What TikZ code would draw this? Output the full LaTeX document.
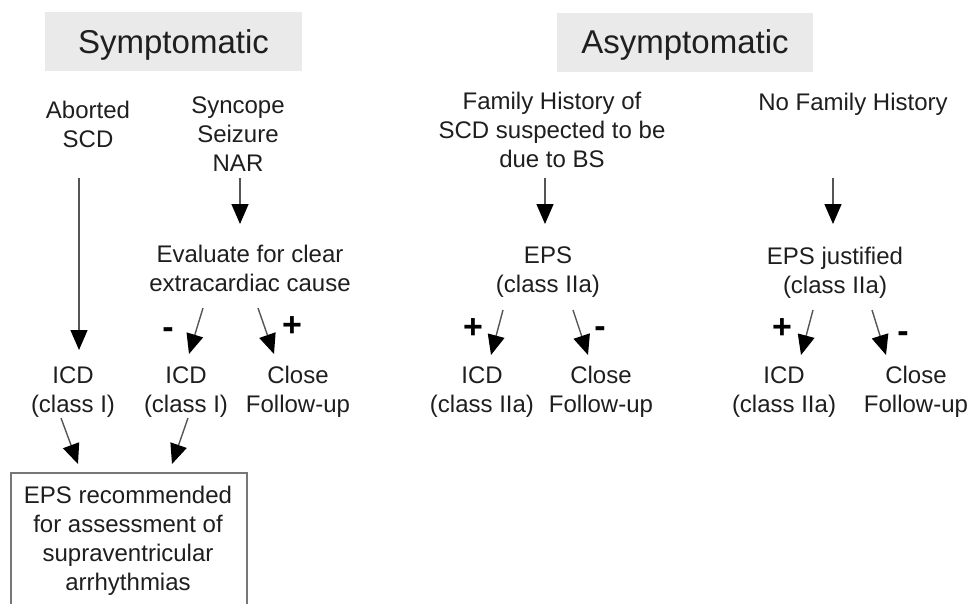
\documentclass[tikz,border=0pt]{standalone}
\usepackage{fontspec}
\setmainfont{Liberation Sans}
\usetikzlibrary{arrows.meta}
\definecolor{hdr}{HTML}{EAEAEA}
\definecolor{txt}{HTML}{1E1E1E}
\definecolor{ln}{HTML}{555555}
\definecolor{boxln}{HTML}{777777}
\begin{document}
\begin{tikzpicture}[x=1pt,y=-1pt,
  lbl/.style={font=\fontsize{24}{29}\selectfont, text=txt, align=center, anchor=base, inner sep=0pt},
  hdrbox/.style={fill=hdr, font=\fontsize{33}{40}\selectfont, text=black!88, inner sep=0pt,
                 text height=23.6pt, text depth=0pt, minimum height=59pt},
  sign/.style={font=\fontsize{34}{36}\selectfont\bfseries, text=black, inner sep=0pt, anchor=base},
  arr/.style={draw=ln, line width=1.4pt, -{Triangle[length=20pt,width=17pt,color=black]}},
  epsbox/.style={draw=boxln, line width=2pt},
]
\useasboundingbox (0,0) rectangle (972,603);
\clip (0,0) rectangle (972,603);

% headers
\node[hdrbox, minimum width=257pt] (sym) at (173.5,41.5) {Symptomatic};
\node[hdrbox, minimum width=256pt] (asym) at (685,42) {Asymptomatic};

% row A (anchor base = last line baseline)
\node[lbl] (abort) at (88,147) {Aborted\\SCD};
\node[lbl] (sync) at (238,171) {Syncope\\Seizure\\NAR};
\node[lbl] (famh) at (552,167) {Family History of\\SCD suspected to be\\due to BS};
\node[lbl] (nofam) at (853,110) {No Family History};

% row B
\node[lbl] (eval) at (250,291) {Evaluate for clear\\extracardiac cause};
\node[lbl] (eps) at (548,292) {EPS\\(class IIa)};
\node[lbl] (epsj) at (835,293) {EPS justified\\(class IIa)};

% row C
\node[lbl] (icd1) at (73,412) {ICD\\(class I)};
\node[lbl] (icd2) at (186,412) {ICD\\(class I)};
\node[lbl] (close1) at (298,412) {Close\\Follow-up};
\node[lbl] (icd3) at (482,412) {ICD\\(class IIa)};
\node[lbl] (close2) at (601,412) {Close\\Follow-up};
\node[lbl] (icd4) at (784,412) {ICD\\(class IIa)};
\node[lbl] (close3) at (916,412) {Close\\Follow-up};

% signs
\node[sign] (m1) at (168,338) {-};
\node[sign] (p1) at (292,336) {+};
\node[sign] (p2) at (473,338) {+};
\node[sign] (m2) at (600,337) {-};
\node[sign] (p3) at (782,338) {+};
\node[sign] (m3) at (903,342) {-};

% EPS recommended box
\draw[epsbox] (11,473) rectangle (247,640);
\node[lbl] (epsrec) at (128,590) {EPS recommended\\for assessment of\\supraventricular\\arrhythmias};

% connector end points
\coordinate (abortS) at (79,178);  \coordinate (icd1N) at (79,350);
\coordinate (syncS) at (240,178);  \coordinate (evalN) at (240,224);
\coordinate (famhS) at (545,178);  \coordinate (epsN) at (545,224);
\coordinate (nofamS) at (833,178); \coordinate (epsjN) at (833,224);
\coordinate (evalL) at (203,308);  \coordinate (icd2N) at (189,354);
\coordinate (evalR) at (258,308);  \coordinate (close1N) at (274,354);
\coordinate (epsL) at (503,310);   \coordinate (icd3N) at (491,355);
\coordinate (epsR) at (573,310);   \coordinate (close2N) at (588,355);
\coordinate (epsjL) at (813,310);  \coordinate (icd4N) at (801,355);
\coordinate (epsjR) at (872,310);  \coordinate (close3N) at (886,355);
\coordinate (icd1S) at (61,418);   \coordinate (recL) at (78,464);
\coordinate (icd2S) at (188,418);  \coordinate (recR) at (172,464);

\draw[arr] (abortS) -- (icd1N);
\draw[arr] (syncS) -- (evalN);
\draw[arr] (famhS) -- (epsN);
\draw[arr] (nofamS) -- (epsjN);
\draw[arr] (evalL) -- (icd2N);
\draw[arr] (evalR) -- (close1N);
\draw[arr] (epsL) -- (icd3N);
\draw[arr] (epsR) -- (close2N);
\draw[arr] (epsjL) -- (icd4N);
\draw[arr] (epsjR) -- (close3N);
\draw[arr] (icd1S) -- (recL);
\draw[arr] (icd2S) -- (recR);
\end{tikzpicture}
\end{document}
